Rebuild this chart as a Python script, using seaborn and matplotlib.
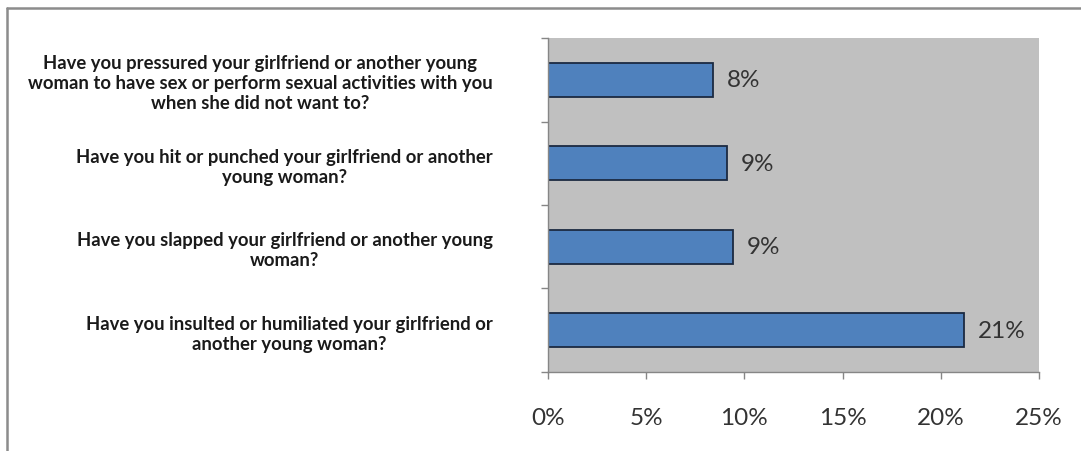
import numpy as np
import pandas as pd

import matplotlib
matplotlib.use("Agg")
import matplotlib.pyplot as plt
from matplotlib.lines import Line2D
from matplotlib.ticker import PercentFormatter, FixedLocator
import seaborn as sns


questions = [
    "Have you pressured your girlfriend or another young\n"
    "woman to have sex or perform sexual activities with you\n"
    "when she did not want to?",
    "Have you hit or punched your girlfriend or another\nyoung woman?",
    "Have you slapped your girlfriend or another young\nwoman?",
    "Have you insulted or humiliated your girlfriend or\nanother young woman?",
]
shares = [0.084, 0.091, 0.094, 0.212]
bar_text = ["8%", "9%", "9%", "21%"]
x_ticks = [0, 0.05, 0.10, 0.15, 0.20, 0.25]

df = pd.DataFrame({"Question": questions, "Share": shares})

sns.set_style("white")
plt.rcParams["font.family"] = ["Lato", "DejaVu Sans"]

fig = plt.figure(figsize=(10.81, 4.52), dpi=100)
ax = fig.add_axes([0.507, 0.1748, 0.454, 0.7389])
ax.set_facecolor("#C0C0C0")

sns.barplot(
    data=df,
    x="Share",
    y="Question",
    orient="h",
    color="#4F81BD",
    saturation=1,
    width=0.41,
    edgecolor="#1B2A41",
    linewidth=1.3,
    ax=ax
)

ax.bar_label(
    ax.containers[0],
    labels=bar_text,
    padding=10,
    fontsize=17.5,
    color="#333333"
)

ax.set_xlim(0, 0.25)
ax.set_xticks(x_ticks)
ax.xaxis.set_major_formatter(PercentFormatter(1.0, decimals=0))
ax.set_xlabel("")
ax.set_ylabel("")

# category labels, centred block
ax.set_yticks(
    range(len(questions)),
    labels=questions,
    fontweight="bold",
    fontsize=13.3,
    multialignment="center",
    linespacing=1.2,
    color="#1A1A1A"
)

ax.yaxis.set_minor_locator(FixedLocator(np.arange(-0.5, len(questions), 1.0)))
ax.tick_params(axis="y", which="major", length=0, pad=40)
ax.tick_params(axis="y", which="minor", left=True, length=5, width=1, color="#868686")
ax.tick_params(axis="x", which="major", bottom=True, length=5, width=1,
               color="#868686", pad=20, labelsize=17.5, labelcolor="#333333")

for side in ["top", "right"]:
    ax.spines[side].set_visible(False)
for side in ["left", "bottom"]:
    ax.spines[side].set_color("#868686")
    ax.spines[side].set_linewidth(1)

# outer chart border (top and left edges are visible)
fig.add_artist(Line2D([0.0065, 1.0], [0.979, 0.979], color="#8C8C8C", linewidth=1.8,
                      transform=fig.transFigure))
fig.add_artist(Line2D([0.0065, 0.0065], [0.0, 0.979], color="#8C8C8C", linewidth=1.8,
                      transform=fig.transFigure))

fig.savefig("out.png", dpi=100)
